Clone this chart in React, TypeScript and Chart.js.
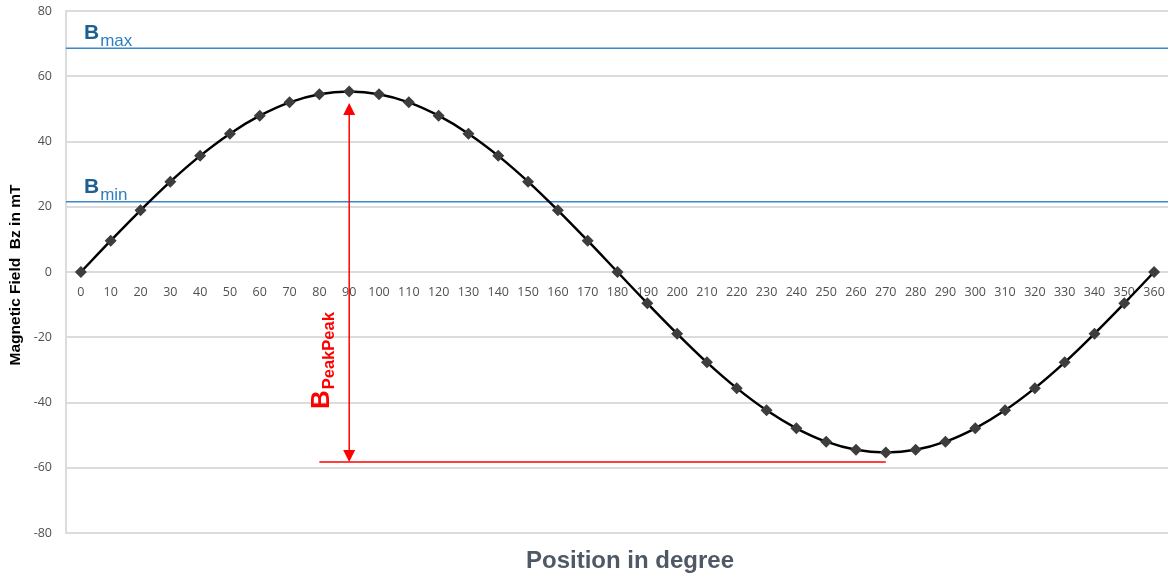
import React, { useEffect, useRef } from 'react';
import { Chart, registerables } from 'chart.js';

Chart.register(...registerables);

// ---- Data ----
const positions: string[] = [
  '0', '10', '20', '30', '40', '50', '60', '70', '80', '90', '100', '110', '120',
  '130', '140', '150', '160', '170', '180', '190', '200', '210', '220', '230', '240',
  '250', '260', '270', '280', '290', '300', '310', '320', '330', '340', '350', '360',
];
const fieldValues: number[] = [
  0, 9.6, 18.9, 27.7, 35.6, 42.4, 47.9, 52.0, 54.5, 55.3, 54.5, 52.0, 47.9,
  42.4, 35.6, 27.7, 18.9, 9.6, 0, -9.6, -18.9, -27.7, -35.6, -42.4, -47.9,
  -52.0, -54.5, -55.3, -54.5, -52.0, -47.9, -42.4, -35.6, -27.7, -18.9, -9.6, 0,
];
const yMin = -80;
const yMax = 80;
const yStep = 20;

const bMaxValue = 68.6;
const bMinValue = 21.5;
const peakArrowAt = '90';
const peakArrowTop = 51.8;
const peakArrowBottom = -58.2;
const peakLineFrom = '80';
const peakLineTo = '270';

const yTitle = 'Magnetic Field  Bz in mT';
const xTitle = 'Position in degree';

const annotationPlugin = {
  id: 'annotations',
  beforeDatasetsDraw(chart: any) {
    const { ctx, chartArea, scales } = chart;
    const x = scales.x;
    const y = scales.y;
    ctx.save();
    // Blue limit lines
    ctx.strokeStyle = '#3b88cc';
    ctx.lineWidth = 1.5;
    [bMaxValue, bMinValue].forEach((v) => {
      const py = y.getPixelForValue(v);
      ctx.beginPath();
      ctx.moveTo(chartArea.left, py);
      ctx.lineTo(chart.width, py);
      ctx.stroke();
    });
    // Red peak-peak annotation
    ctx.strokeStyle = '#ff0000';
    ctx.fillStyle = '#ff0000';
    ctx.lineWidth = 1.5;
    const ax = x.getPixelForValue(positions.indexOf(peakArrowAt));
    const yTop = y.getPixelForValue(peakArrowTop);
    const yBot = y.getPixelForValue(peakArrowBottom);
    ctx.beginPath();
    ctx.moveTo(ax, yTop + 6);
    ctx.lineTo(ax, yBot - 6);
    ctx.stroke();
    ctx.beginPath();
    ctx.moveTo(ax, yTop);
    ctx.lineTo(ax - 6, yTop + 12);
    ctx.lineTo(ax + 6, yTop + 12);
    ctx.closePath();
    ctx.fill();
    ctx.beginPath();
    ctx.moveTo(ax, yBot);
    ctx.lineTo(ax - 6, yBot - 12);
    ctx.lineTo(ax + 6, yBot - 12);
    ctx.closePath();
    ctx.fill();
    const lx1 = x.getPixelForValue(positions.indexOf(peakLineFrom));
    const lx2 = x.getPixelForValue(positions.indexOf(peakLineTo));
    ctx.beginPath();
    ctx.moveTo(lx1, yBot);
    ctx.lineTo(lx2, yBot);
    ctx.stroke();
    ctx.restore();
  },
  afterDatasetsDraw(chart: any) {
    const { ctx, chartArea, scales } = chart;
    const x = scales.x;
    const y = scales.y;
    ctx.save();
    // B labels
    const drawB = (value: number, sub: string) => {
      const py = y.getPixelForValue(value);
      const bx = chartArea.left + 18;
      const baseline = py - 9;
      ctx.textAlign = 'left';
      ctx.textBaseline = 'alphabetic';
      ctx.font = 'bold 21px "Liberation Sans", Arial, sans-serif';
      ctx.fillStyle = '#1d5f8e';
      ctx.fillText('B', bx, baseline);
      const w = ctx.measureText('B').width;
      ctx.font = '17px "Liberation Sans", Arial, sans-serif';
      ctx.fillStyle = '#2e7fc0';
      ctx.fillText(sub, bx + w + 1, baseline + 7);
    };
    drawB(bMaxValue, 'max');
    drawB(bMinValue, 'min');

    // B PeakPeak rotated label
    const ax = x.getPixelForValue(positions.indexOf(peakArrowAt));
    ctx.save();
    ctx.translate(ax - 20, y.getPixelForValue(-42));
    ctx.rotate(-Math.PI / 2);
    ctx.fillStyle = '#ff0000';
    ctx.textAlign = 'left';
    ctx.textBaseline = 'alphabetic';
    ctx.font = 'bold 26px "Liberation Sans", Arial, sans-serif';
    ctx.fillText('B', 0, 0);
    const wb = ctx.measureText('B').width;
    ctx.font = 'bold 16.5px "Liberation Sans", Arial, sans-serif';
    ctx.fillText('PeakPeak', wb + 1, 5);
    ctx.restore();

    // Axis titles
    ctx.save();
    ctx.translate(16, (chartArea.top + chartArea.bottom) / 2 + 3);
    ctx.rotate(-Math.PI / 2);
    ctx.textAlign = 'center';
    ctx.textBaseline = 'middle';
    ctx.fillStyle = '#000000';
    ctx.font = 'bold 15.5px "Liberation Sans", Arial, sans-serif';
    ctx.fillText(yTitle, 0, 0);
    ctx.restore();

    ctx.textAlign = 'center';
    ctx.textBaseline = 'middle';
    ctx.fillStyle = '#4e5965';
    ctx.font = 'bold 24px "Liberation Sans", Arial, sans-serif';
    ctx.fillText(xTitle, 630, 561);
    ctx.restore();
  },
};

export default function App() {
  const canvasRef = useRef<HTMLCanvasElement | null>(null);

  useEffect(() => {
    document.body.style.margin = '0';
    const canvas = canvasRef.current;
    if (!canvas) return;
    const chart = new Chart(canvas, {
      type: 'line',
      data: {
        labels: positions,
        datasets: [
          {
            label: 'Bz',
            data: fieldValues,
            borderColor: '#000000',
            borderWidth: 2.5,
            tension: 0.35,
            pointStyle: 'rectRot',
            pointRadius: 6,
            pointBackgroundColor: '#3d3d3d',
            pointBorderColor: '#3d3d3d',
            pointBorderWidth: 0,
            fill: false,
          },
        ],
      },
      options: {
        responsive: false,
        animation: false,
        devicePixelRatio: 1,
        layout: { padding: { left: 0, top: 11, right: 0, bottom: 45 } },
        plugins: {
          legend: { display: false },
          tooltip: { enabled: false },
          title: { display: false },
        },
        scales: {
          x: {
            type: 'category',
            position: { y: 0 },
            offset: true,
            grid: { display: false, drawTicks: false },
            border: { display: false },
            ticks: {
              color: '#505050',
              font: { family: '"Open Sans", sans-serif', size: 12.5 },
              padding: 13,
              maxRotation: 0,
              autoSkip: false,
            },
            afterFit(scale: any) {
              scale.paddingLeft = 0;
              scale.paddingRight = 0;
              scale.paddingTop = 0;
              scale.paddingBottom = 0;
            },
          },
          y: {
            min: yMin,
            max: yMax,
            grid: { color: '#dcdcdc', lineWidth: 2, drawTicks: false },
            border: { display: true, color: '#dcdcdc', width: 2 },
            ticks: {
              stepSize: yStep,
              color: '#505050',
              font: { family: '"Open Sans", sans-serif', size: 12.5 },
              padding: 14,
            },
            afterFit(scale: any) {
              scale.width = 66;
              scale.paddingTop = 0;
              scale.paddingBottom = 0;
              scale.paddingLeft = 0;
              scale.paddingRight = 0;
            },
          },
        },
      },
      plugins: [annotationPlugin],
    });
    return () => chart.destroy();
  }, []);

  return (
    <div style={{ position: 'fixed', left: 0, top: 0, width: 1168, height: 578, overflow: 'hidden', background: '#fff' }}>
      <canvas ref={canvasRef} width={1175} height={578} />
    </div>
  );
}
